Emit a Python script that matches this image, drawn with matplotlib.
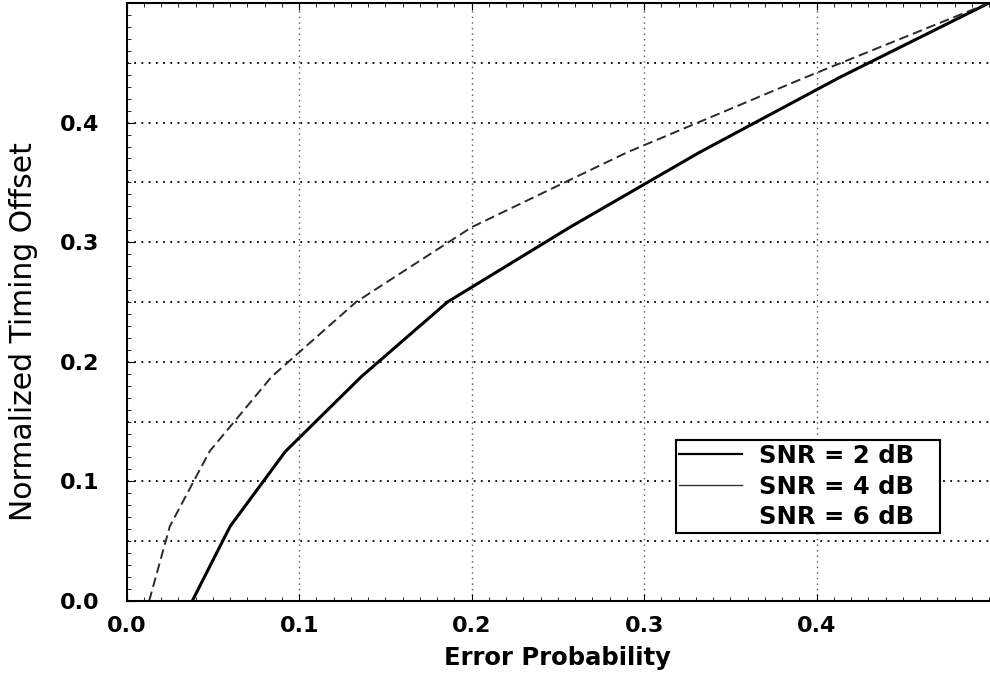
import matplotlib
matplotlib.use("Agg")
import matplotlib.pyplot as plt
import numpy as np
from matplotlib.lines import Line2D
from matplotlib.ticker import MultipleLocator

offset = [0.0, 0.0625, 0.125, 0.1875, 0.25, 0.3125, 0.375, 0.4375, 0.5]
perr_2db = [0.038, 0.060, 0.092, 0.136, 0.186, 0.257, 0.332, 0.413, 0.5]
perr_4db = [0.013, 0.025, 0.048, 0.084, 0.133, 0.200, 0.290, 0.393, 0.5]

labels = ['SNR = 2 dB', 'SNR = 4 dB', 'SNR = 6 dB']
xticks = [0.0, 0.1, 0.2, 0.3, 0.4]
yticks = [0.0, 0.1, 0.2, 0.3, 0.4]
ygrid = [0.05, 0.1, 0.15, 0.2, 0.25, 0.3, 0.35, 0.4, 0.45]

plt.rcParams['font.family'] = ['DejaVu Sans']

fig = plt.figure(figsize=(9.9, 6.78), dpi=100)
ax = fig.add_axes([0.128, 0.1136, 0.871, 0.882])

ax.plot(perr_2db, offset, color='black', lw=2.2, label=labels[0])
ax.plot(perr_4db, offset, color='#2a2a2a', lw=1.4, dashes=(5, 2.5), label=labels[1])

ax.set_xlim(0, 0.5)
ax.set_ylim(0, 0.5)

# dotted grid
for g in ygrid:
    ax.axhline(g, color='black', lw=1.3, ls=(0, (1, 3)), zorder=0)
for g in xticks[1:]:
    ax.axvline(g, color='#555555', lw=1.0, ls=(0, (1, 3)), zorder=0)

ax.set_xticks(xticks)
ax.set_xticklabels(['%.1f' % v for v in xticks], fontsize=16, fontweight='bold')
ax.set_yticks(yticks)
ax.set_yticklabels(['%.1f' % v for v in yticks], fontsize=16, fontweight='bold')
ax.xaxis.set_minor_locator(MultipleLocator(0.01))
ax.yaxis.set_minor_locator(MultipleLocator(0.01))
ax.tick_params(axis='both', which='both', direction='in', top=True, right=False)
ax.tick_params(axis='x', which='major', length=5, pad=11)
ax.tick_params(axis='y', which='major', length=5, pad=19.5)
ax.tick_params(axis='both', which='minor', length=3)

for s in ax.spines.values():
    s.set_linewidth(1.5)
ax.spines['right'].set_visible(False)

ax.set_xlabel('Error Probability', fontsize=17.5, fontweight='bold')
ax.xaxis.set_label_coords(0.5, -0.076)
ax.set_ylabel('Normalized Timing Offset', fontsize=21.5)
ax.yaxis.set_label_coords(-0.103, 0.45)

handles = [Line2D([], [], color='black', lw=1.6),
           Line2D([], [], color='#333333', lw=1.0),
           Line2D([], [], color='none')]
leg = ax.legend(handles, labels, loc='lower left', mode='expand',
                bbox_to_anchor=(0.6365, 0.1137, 0.3065, 0.1),
                fancybox=False, framealpha=1, edgecolor='black', handlelength=2.6,
                handletextpad=0.7, borderpad=0.15, borderaxespad=0, labelspacing=0.28,
                prop={'size': 17.5, 'weight': 'bold'})
leg.get_frame().set_linewidth(1.5)

fig.savefig('out.png', dpi=100)
